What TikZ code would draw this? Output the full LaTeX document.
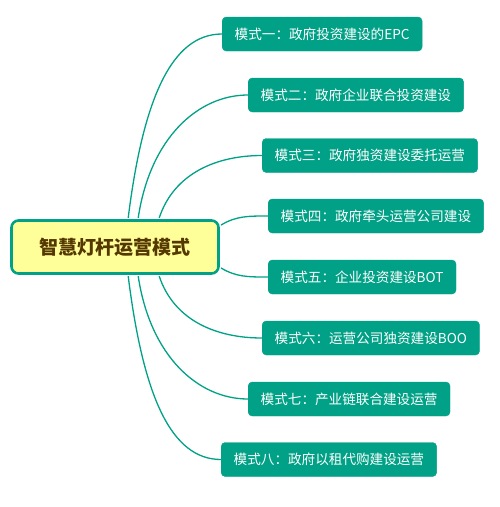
\documentclass[tikz,border=0pt]{standalone}
\usepackage{fontspec}
\setmainfont{Noto Sans CJK SC}
\definecolor{teal1}{RGB}{0,161,134}
\definecolor{centfill}{RGB}{255,255,153}
\definecolor{centtext}{RGB}{85,55,0}
\tikzset{
  branch/.style={draw=teal1, fill=teal1, text=white, rounded corners=4pt, minimum height=34pt, inner xsep=12.5pt, inner ysep=0pt, anchor=west, font=\fontsize{13.6pt}{15pt}\selectfont},
  central/.style={draw=teal1, fill=centfill, line width=2.6pt, rounded corners=7pt, minimum width=207pt, minimum height=53pt, text=centtext, font=\fontsize{19pt}{22pt}\selectfont\bfseries},
  conn/.style={draw=teal1, line width=1.3pt}
}
\begin{document}
\begin{tikzpicture}[x=1pt,y=-1pt]
\useasboundingbox (0,0) rectangle (499,507);
\node[central] (c) at (115,247) {智慧灯杆运营模式};
\node[branch] (b1) at (222,34) {模式一：政府投资建设的EPC};
\node[branch] (b2) at (248,95) {模式二：政府企业联合投资建设};
\node[branch] (b3) at (262,155.5) {模式三：政府独资建设委托运营};
\node[branch] (b4) at (268,216) {模式四：政府牵头运营公司建设};
\node[branch] (b5) at (268,277) {模式五：企业投资建设BOT};
\node[branch] (b6) at (262,338) {模式六：运营公司独资建设BOO};
\node[branch] (b7) at (248,399) {模式七：产业链联合建设运营};
\node[branch] (b8) at (221,459.5) {模式八：政府以租代购建设运营};
\draw[conn] ([xshift=118pt,yshift=1.3pt]c.north west) .. controls +(15,-120) and +(-50,0) .. (b1.west);
\draw[conn] ([xshift=128pt,yshift=1.3pt]c.north west) .. controls +(12,-80) and +(-50,0) .. (b2.west);
\draw[conn] ([xshift=149pt,yshift=1.3pt]c.north west) .. controls +(15,-45) and +(-45,0) .. (b3.west);
\draw[conn] ([xshift=1.3pt,yshift=22pt]c.east) .. controls +(15,-9) and +(-20,0) .. (b4.west);
\draw[conn] ([xshift=1.3pt,yshift=-21pt]c.east) .. controls +(15,9) and +(-20,0) .. (b5.west);
\draw[conn] ([xshift=149pt,yshift=-1.3pt]c.south west) .. controls +(15,45) and +(-45,0) .. (b6.west);
\draw[conn] ([xshift=128pt,yshift=-1.3pt]c.south west) .. controls +(12,80) and +(-50,0) .. (b7.west);
\draw[conn] ([xshift=118pt,yshift=-1.3pt]c.south west) .. controls +(15,120) and +(-50,0) .. (b8.west);
\end{tikzpicture}
\end{document}
